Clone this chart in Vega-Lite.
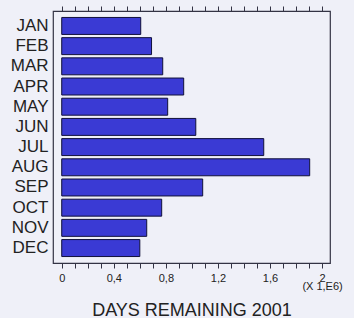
{
  "$schema": "https://vega.github.io/schema/vega-lite/v6.json",
  "width": 277,
  "height": 252,
  "autosize": {"type": "none"},
  "padding": {"left": 53, "top": 11, "right": 24, "bottom": 55},
  "background": "#eff0f8",
  "config": {
    "view": {"stroke": "#333344", "strokeWidth": 1.2},
    "font": "Liberation Sans"
  },
  "data": {
    "values": [
      {"month": "JAN", "days": 0.607},
      {"month": "FEB", "days": 0.69},
      {"month": "MAR", "days": 0.776},
      {"month": "APR", "days": 0.937},
      {"month": "MAY", "days": 0.814},
      {"month": "JUN", "days": 1.03},
      {"month": "JUL", "days": 1.552},
      {"month": "AUG", "days": 1.905},
      {"month": "SEP", "days": 1.083},
      {"month": "OCT", "days": 0.768},
      {"month": "NOV", "days": 0.653},
      {"month": "DEC", "days": 0.6}
    ]
  },
  "layer": [
    {
      "mark": {"type": "bar", "fill": "#3a3ad4", "stroke": "#10103a", "strokeWidth": 1},
      "encoding": {
        "y": {
          "field": "month", "type": "nominal", "sort": null,
          "scale": {"paddingInner": 0.16, "paddingOuter": 0.32},
          "axis": {"title": null, "ticks": false, "domain": false, "labelFontSize": 17, "labelPadding": 5, "labelColor": "#222222"}
        },
        "x": {
          "field": "days", "type": "quantitative",
          "scale": {"domain": [-0.067, 2.061], "nice": false, "zero": false},
          "axis": {
            "orient": "bottom",
            "values": [0, 0.1, 0.2, 0.3, 0.4, 0.5, 0.6, 0.7, 0.8, 0.9, 1.0, 1.1, 1.2, 1.3, 1.4, 1.5, 1.6, 1.7, 1.8, 1.9, 2.0],
            "labelExpr": "round(datum.value*10) % 4 == 0 ? (round(datum.value*10) == 20 ? ['2', '(X 1,E6)'] : replace(format(datum.value, '~g'), '.', ',')) : ''",
            "ticks": true,
            "tickSize": 5,
            "tickWidth": 1,
            "tickColor": "#333344",
            "encode": {"ticks": {"update": {"y2": {"signal": "round(datum.value*10) % 4 == 0 ? -5 : -3"}}}},
            "labelPadding": 4,
            "labelFontSize": 11,
            "labelColor": "#222222",
            "labelLineHeight": 8,
            "labelOverlap": false,
            "labelFlush": false,
            "domain": false,
            "grid": false,
            "title": "DAYS REMAINING 2001",
            "titleFontSize": 18,
            "titleFontWeight": "normal",
            "titleColor": "#222222",
            "titlePadding": 10
          }
        }
      }
    },
    {
      "mark": {"type": "bar", "opacity": 0},
      "encoding": {
        "y": {"field": "month", "type": "nominal", "sort": null},
        "x": {
          "field": "days", "type": "quantitative",
          "axis": {
            "orient": "top",
            "values": [0, 0.1, 0.2, 0.3, 0.4, 0.5, 0.6, 0.7, 0.8, 0.9, 1.0, 1.1, 1.2, 1.3, 1.4, 1.5, 1.6, 1.7, 1.8, 1.9, 2.0],
            "labels": false,
            "ticks": true,
            "tickSize": 5,
            "tickWidth": 1,
            "tickColor": "#333344",
            "encode": {"ticks": {"update": {"y2": {"signal": "round(datum.value*10) % 4 == 0 ? -5 : -3"}}}},
            "domain": false,
            "grid": false,
            "title": null
          }
        }
      }
    }
  ],
  "resolve": {"axis": {"x": "independent"}}
}
